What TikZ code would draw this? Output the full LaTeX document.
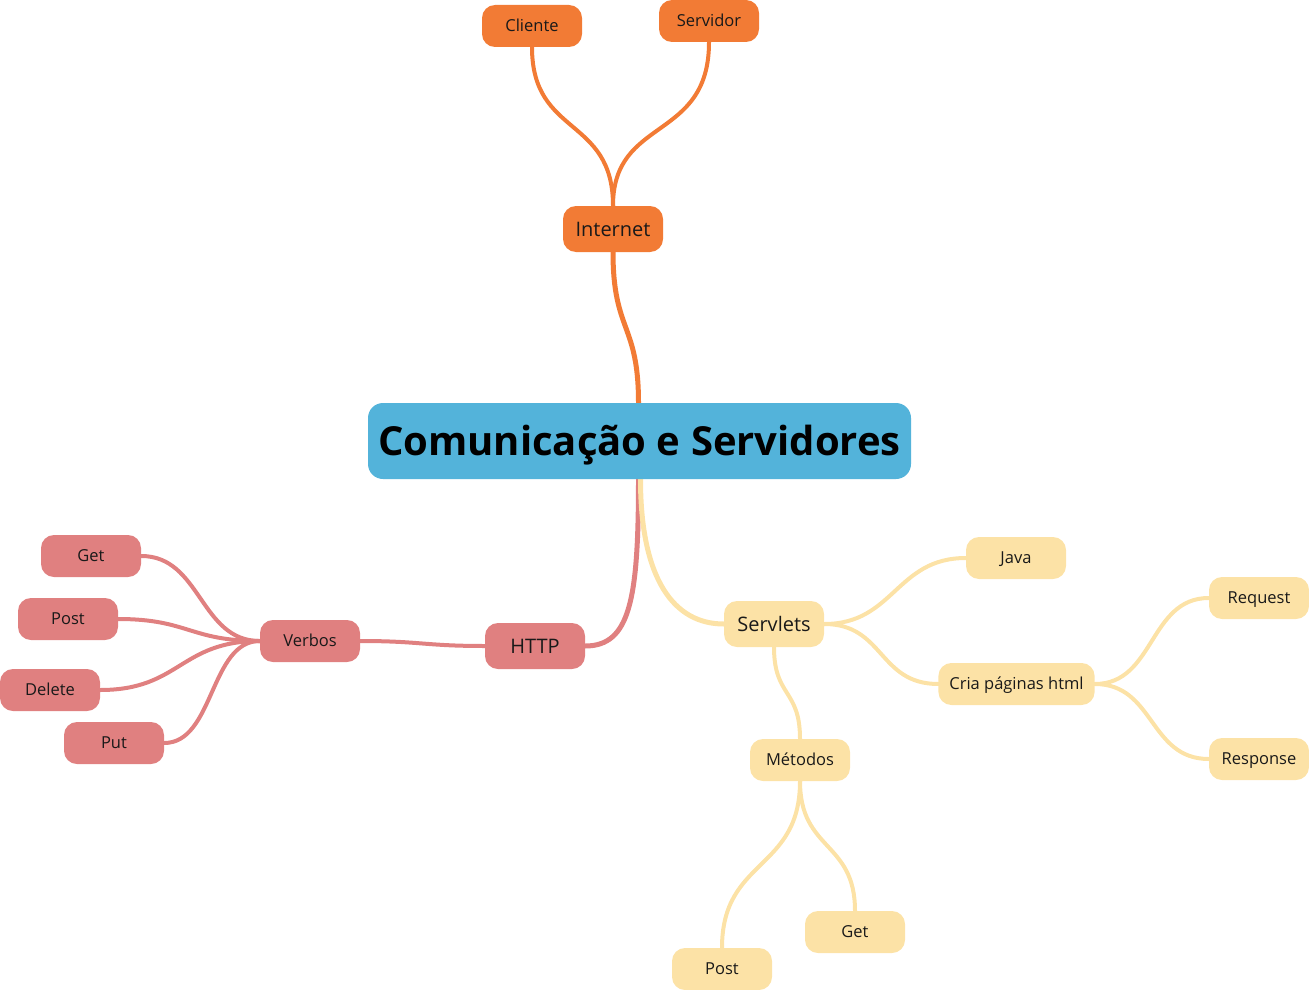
\documentclass[tikz,border=0pt]{standalone}
\usepackage{fontspec}
\setmainfont{Open Sans}
\definecolor{mmblue}{HTML}{53B3DA}
\definecolor{mmorange}{HTML}{F27B35}
\definecolor{mmred}{HTML}{E08080}
\definecolor{mmyellow}{HTML}{FCE2A6}
\usetikzlibrary{backgrounds}

\begin{document}
\begin{tikzpicture}[x=1pt,y=-1pt,
  leaf/.style={rounded corners=13pt,minimum width=100pt,minimum height=42pt,inner ysep=0pt,inner xsep=11pt,text height=11.8pt,text depth=0pt,font=\fontsize{16.5}{19}\selectfont,text=black!90},
  topic/.style={leaf,minimum height=46pt,text height=14.3pt,font=\fontsize{20}{23}\selectfont},
  trunk/.style={line width=5pt,line cap=round},
  twig/.style={line width=4pt,line cap=round}]
  \useasboundingbox (0,0) rectangle (1309,990);
  \node[fill=mmblue,rounded corners=15pt,minimum width=543pt,minimum height=76pt,inner sep=0pt,text height=28.6pt,text depth=0pt,font=\fontsize{40}{46}\selectfont\bfseries] (root) at (639.5,441) {Comunicação e Servidores};
  \node[topic,fill=mmorange] (internet) at (613,229) {Internet};
  \node[leaf,fill=mmorange] (cliente) at (532,26) {Cliente};
  \node[leaf,fill=mmorange] (servidor) at (709,21) {Servidor};
  \node[topic,fill=mmred] (http) at (535,646) {HTTP};
  \node[leaf,fill=mmred] (verbos) at (310,641) {Verbos};
  \node[leaf,fill=mmred] (vget) at (91,556) {Get};
  \node[leaf,fill=mmred] (vpost) at (68,619) {Post};
  \node[leaf,fill=mmred] (vdelete) at (50,690) {Delete};
  \node[leaf,fill=mmred] (vput) at (114,743) {Put};
  \node[topic,fill=mmyellow] (servlets) at (774,624) {Servlets};
  \node[leaf,fill=mmyellow] (java) at (1016,558) {Java};
  \node[leaf,fill=mmyellow] (cria) at (1016.5,684) {Cria páginas html};
  \node[leaf,fill=mmyellow] (request) at (1259,598) {Request};
  \node[leaf,fill=mmyellow] (response) at (1259,759) {Response};
  \node[leaf,fill=mmyellow] (metodos) at (800,760) {Métodos};
  \node[leaf,fill=mmyellow] (mpost) at (722,969) {Post};
  \node[leaf,fill=mmyellow] (mget) at (855,932) {Get};
  \begin{scope}[on background layer]
    \draw[trunk,mmorange] ([xshift=-1pt]root.north) .. controls +(0,-80) and +(0,80) .. (internet.south);
    \draw[twig,mmorange] (internet.north) .. controls +(0,-90) and +(0,90) .. (cliente.south);
    \draw[twig,mmorange] (internet.north) .. controls +(0,-90) and +(0,100) .. (servidor.south);
    \draw[trunk,mmred] ([xshift=-1pt]root.south) .. controls +(0,120) and +(45,0) .. (http.east);
    \draw[twig,mmred] (http.west) .. controls +(-60,0) and +(60,0) .. (verbos.east);
    \draw[twig,mmred] (verbos.west) .. controls +(-60,0) and +(60,0) .. (vget.east);
    \draw[twig,mmred] (verbos.west) .. controls +(-70,0) and +(70,0) .. (vpost.east);
    \draw[twig,mmred] (verbos.west) .. controls +(-80,0) and +(80,0) .. (vdelete.east);
    \draw[twig,mmred] (verbos.west) .. controls +(-50,0) and +(50,0) .. (vput.east);
    \draw[trunk,mmyellow] ([xshift=1pt]root.south) .. controls +(0,100) and +(-50,0) .. (servlets.west);
    \draw[twig,mmyellow] (servlets.east) .. controls +(70,0) and +(-70,0) .. (java.west);
    \draw[twig,mmyellow] (servlets.east) .. controls +(60,0) and +(-60,0) .. (cria.west);
    \draw[twig,mmyellow] (cria.east) .. controls +(60,0) and +(-60,0) .. (request.west);
    \draw[twig,mmyellow] (cria.east) .. controls +(60,0) and +(-60,0) .. (response.west);
    \draw[twig,mmyellow] (servlets.south) .. controls +(0,50) and +(0,-50) .. (metodos.north);
    \draw[twig,mmyellow] (metodos.south) .. controls +(0,90) and +(0,-90) .. (mpost.north);
    \draw[twig,mmyellow] (metodos.south) .. controls +(0,70) and +(0,-70) .. (mget.north);
  \end{scope}
\end{tikzpicture}
\end{document}
